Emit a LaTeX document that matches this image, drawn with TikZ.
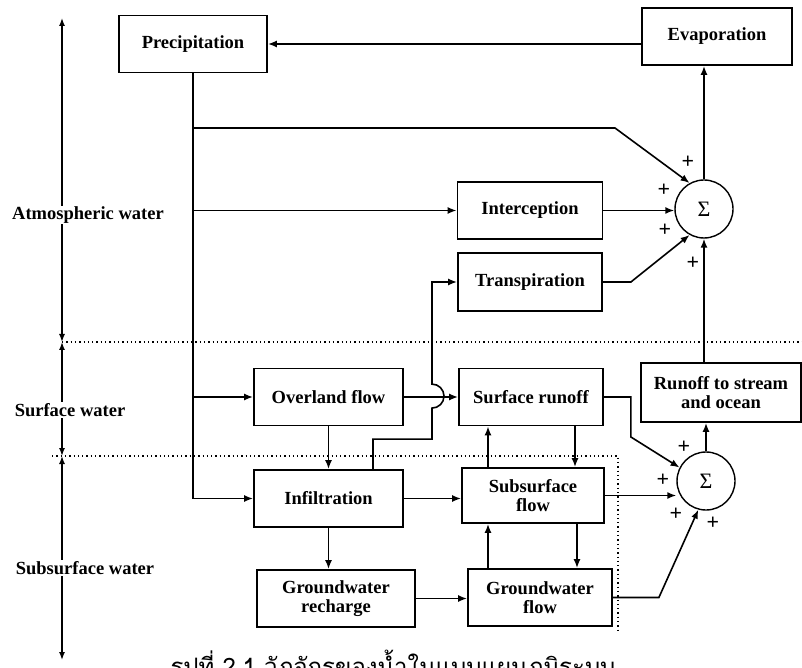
\documentclass[tikz,border=0pt]{standalone}
\usepackage{fontspec}
\setmainfont{Liberation Serif}
\newfontfamily\thaifont[Script=Thai]{Loma}
\usetikzlibrary{arrows.meta,positioning}

\begin{document}
\begin{tikzpicture}[
    x=1pt, y=1pt,
    box/.style={draw, rectangle, line width=1.8pt, minimum height=57pt,
                inner sep=0pt, align=center,
                font=\bfseries\fontsize{18.5}{19.5}\selectfont},
    sumnode/.style={draw, circle, line width=1.4pt, minimum size=58pt,
                    inner sep=0pt, font=\fontsize{22}{22}\selectfont},
    arrow/.style={-{Latex[length=9pt,width=7pt]}, line width=1.6pt},
    zone/.style={{Latex[length=8pt,width=6pt]}-{Latex[length=8pt,width=6pt]},
                 line width=1.4pt},
    zonelabel/.style={fill=white, inner sep=1pt,
                      font=\bfseries\fontsize{18.5}{19.5}\selectfont},
    divider/.style={line width=1.2pt, dash pattern=on 1.3pt off 3pt},
    sign/.style={inner sep=0pt, font=\bfseries\fontsize{22}{22}\selectfont}
]
\useasboundingbox (0,0) rectangle (802,667);

% atmosphere
\node[box, minimum width=148pt] (prec) at (193,623) {Precipitation};
\node[box, minimum width=150pt] (evap) at (717,630.5) {Evaporation};
\node[box, minimum width=145pt] (inter) at (530,456.5) {Interception};
\node[box, minimum width=144pt, minimum height=58pt] (transp) at (530,385) {Transpiration};
\node[sumnode] (sumA) at (704,458) {Σ};

% surface and subsurface
\node[box, minimum width=149pt] (overland) at (328.5,270) {Overland flow};
\node[box, minimum width=144pt] (surfro) at (531,270) {Surface runoff};
\node[box, minimum width=160pt, minimum height=59pt] (runoff) at (721,274.5) {Runoff to stream\\and ocean};
\node[box, minimum width=149pt] (infil) at (328.5,168.5) {Infiltration};
\node[box, minimum width=142pt, minimum height=55pt] (subsurf) at (533,171.5) {Subsurface\\flow};
\node[box, minimum width=158pt] (gwrech) at (336,68.5) {Groundwater\\recharge};
\node[box, minimum width=144pt] (gwflow) at (540,69.5) {Groundwater\\flow};
\node[sumnode] (sumB) at (706,186) {Σ};

% zones on the left
\coordinate (atmtop) at (62,649);
\coordinate (zoneAB) at (62,325);
\coordinate (zoneBC) at (62,211);
\coordinate (subbot) at (62,7);
\draw[zone] (zoneAB) -- (atmtop);
\draw[zone] (zoneBC) -- (zoneAB);
\draw[zone] (zoneBC) -- (subbot);
\node[zonelabel] (atmlab) at (88,452) {Atmospheric water};
\node[zonelabel] (surflab) at (70,257) {Surface water};
\node[zonelabel] (sublab) at (85,99) {Subsurface water};

\coordinate (divAend) at (802,325);
\coordinate (divBstart) at (52,211);
\coordinate (divBcorner) at (618,211);
\coordinate (divBend) at (618,37);
\draw[divider] (zoneAB) -- (divAend);
\draw[divider] (divBstart) -- (divBcorner) -- (divBend);

% precipitation feeds
\coordinate (bendA) at (615,539);
\draw[arrow] (evap.west |- prec.east) -- (prec.east);
\draw[arrow] (prec.south) |- (infil.west);
\draw[arrow] (prec.south |- overland.west) -- (overland.west);
\draw[arrow] (prec.south |- inter.west) -- (inter.west);
\draw[arrow] (prec.south |- bendA) -- (bendA) -- (sumA.119);

% into the upper sum
\draw[arrow] (inter.east) -- (inter.east -| sumA.west);
\draw[arrow] (transp.east) -- ++(28,0) -- (sumA.241);
\draw[arrow] (runoff.north -| sumA.south) -- (sumA.south);
\draw[arrow] (sumA.north) -- (sumA.north |- evap.south);

% surface and subsurface links
\draw[arrow] (overland.east) -- (overland.east -| surfro.west);
\draw[arrow] ([xshift=44.5pt]infil.north) -- ++(0,30) -- ++(59,0) -- ++(0,31)
    arc[start angle=-90, end angle=90, radius=12] -- ++(0,103) |- (transp.west);
\draw[arrow] (overland.south) -- (infil.north);
\draw[arrow] (infil.south) -- (infil.south |- gwrech.north);
\draw[arrow] (infil.east) -- (infil.east -| subsurf.west);
\draw[arrow] (gwrech.east) -- (gwrech.east -| gwflow.west);
\draw[arrow] ([xshift=-45pt]subsurf.north) -- ([xshift=-45pt]subsurf.north |- surfro.south);
\draw[arrow] ([xshift=44pt]surfro.south) -- ([xshift=44pt]surfro.south |- subsurf.north);
\draw[arrow] ([xshift=-52pt]gwflow.north) -- ([xshift=-52pt]gwflow.north |- subsurf.south);
\draw[arrow] ([xshift=44pt]subsurf.south) -- ([xshift=44pt]subsurf.south |- gwflow.north);

% into the lower sum
\draw[arrow] (surfro.east) -- ++(27,0) -- ++(0,-40) -- (sumB.153);
\draw[arrow] (subsurf.east) -- (subsurf.east -| sumB.west);
\draw[arrow] (gwflow.east) -- ++(46,0) -- (sumB.255);
\draw[arrow] (sumB.north) -- (sumB.north |- runoff.south);

% signs
\node[sign] (pA1) at (688,505) {+};
\node[sign] (pA2) at (664,477) {+};
\node[sign] (pA3) at (665,437) {+};
\node[sign] (pA4) at (693,404) {+};
\node[sign] (pB1) at (684,220) {+};
\node[sign] (pB2) at (663,187) {+};
\node[sign] (pB3) at (676,153) {+};
\node[sign] (pB4) at (713,144) {+};

% caption, cut by the page edge as in the scan
\node[anchor=base, inner sep=0pt, font=\thaifont\fontsize{24}{24}\selectfont] (caption)
    at (393,-8) {รูปที่ 2.1 วัฏจักรของน้ำในแบบแผนภูมิระบบ};
\end{tikzpicture}
\end{document}
